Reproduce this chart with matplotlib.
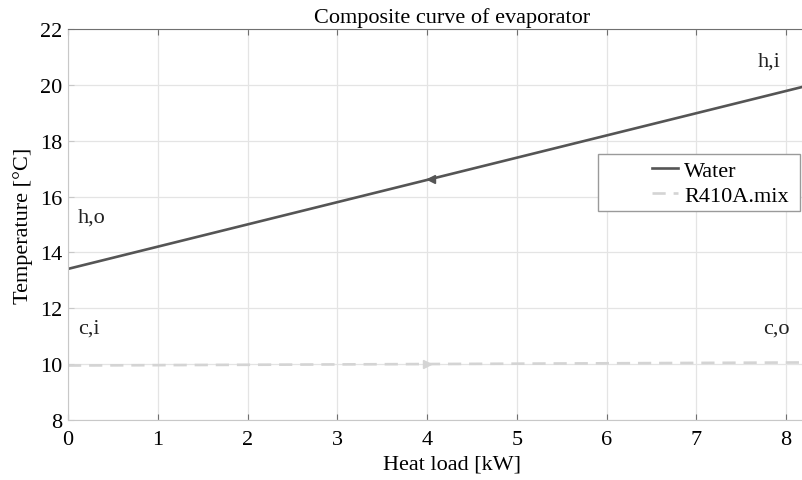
import numpy as np
import matplotlib
matplotlib.use("Agg")
import matplotlib.pyplot as plt
from matplotlib.patches import Rectangle

# Composite curve of evaporator: water (hot) vs R410A (cold)
q_water = [0.0, 8.2]
t_water = [13.41, 19.94]
q_ref = [0.0, 8.2]
t_ref = [9.95, 10.06]

# flow direction markers
water_arrow = (4.05, 16.63)
ref_arrow = (4.0, 10.0)

# stream end labels
end_labels = ["h,o", "h,i", "c,i", "c,o"]
label_q = [0.11, 7.68, 0.11, 7.74]
label_t = [15.25, 20.85, 11.3, 11.3]

water_col = "#555555"
ref_col = "#d4d4d4"
fs = 16

plt.rcParams["font.family"] = ["Liberation Serif", "DejaVu Serif"]
plt.rcParams["font.size"] = fs

fig = plt.figure(figsize=(8.02, 4.81), dpi=100)
ax = fig.add_axes([68 / 802, 1 - 421 / 481, 768 / 802, 391 / 481])

ax.plot(q_water, t_water, color=water_col, lw=1.9, label="Water")
ax.plot(q_ref, t_ref, color=ref_col, lw=1.9, ls=(0, (5, 3)), label="R410A.mix")
ax.plot(*water_arrow, marker="<", color=water_col, ms=6)
ax.plot(*ref_arrow, marker=">", color=ref_col, ms=6)

for s, x, y in zip(end_labels, label_q, label_t):
    ax.text(x, y, s, fontsize=fs, va="center", ha="left", color="#222222")

ax.set_xlim(0, 8.557)
ax.set_ylim(8, 22)
ax.set_xticks(np.arange(0, 9, 1))
ax.set_yticks(np.arange(8, 23, 2))
ax.grid(True, color="#e4e4e4", lw=0.9)
ax.set_axisbelow(True)

for side in ["left", "bottom"]:
    ax.spines[side].set_color("#c8c8c8")
ax.spines["top"].set_color("#707070")
ax.spines["right"].set_visible(False)
ax.tick_params(axis="x", direction="in", length=4, color="#707070",
               top=True, labelsize=fs, pad=7)
ax.tick_params(axis="y", direction="in", length=4, color="#c8c8c8",
               labelsize=fs, pad=4)

ax.set_title("Composite curve of evaporator", fontsize=fs, pad=5)
ax.set_xlabel("Heat load [kW]", fontsize=fs, labelpad=4)
ax.set_ylabel("Temperature [°C]", fontsize=fs, labelpad=5)

# legend box wider than its entries, entries sit at the right
box = Rectangle((530 / 768, 209 / 391), 202 / 768, 57 / 391, transform=ax.transAxes,
                facecolor="white", edgecolor="#9a9a9a", lw=1.0, zorder=4)
ax.add_patch(box)
leg = ax.legend(loc="upper right", bbox_to_anchor=(721 / 768, 260 / 391),
                fontsize=fs, frameon=False, handlelength=1.15,
                handletextpad=0.3, labelspacing=0.2, borderpad=0.0,
                borderaxespad=0.0)
leg.set_zorder(5)

fig.savefig("out.png", dpi=100)
